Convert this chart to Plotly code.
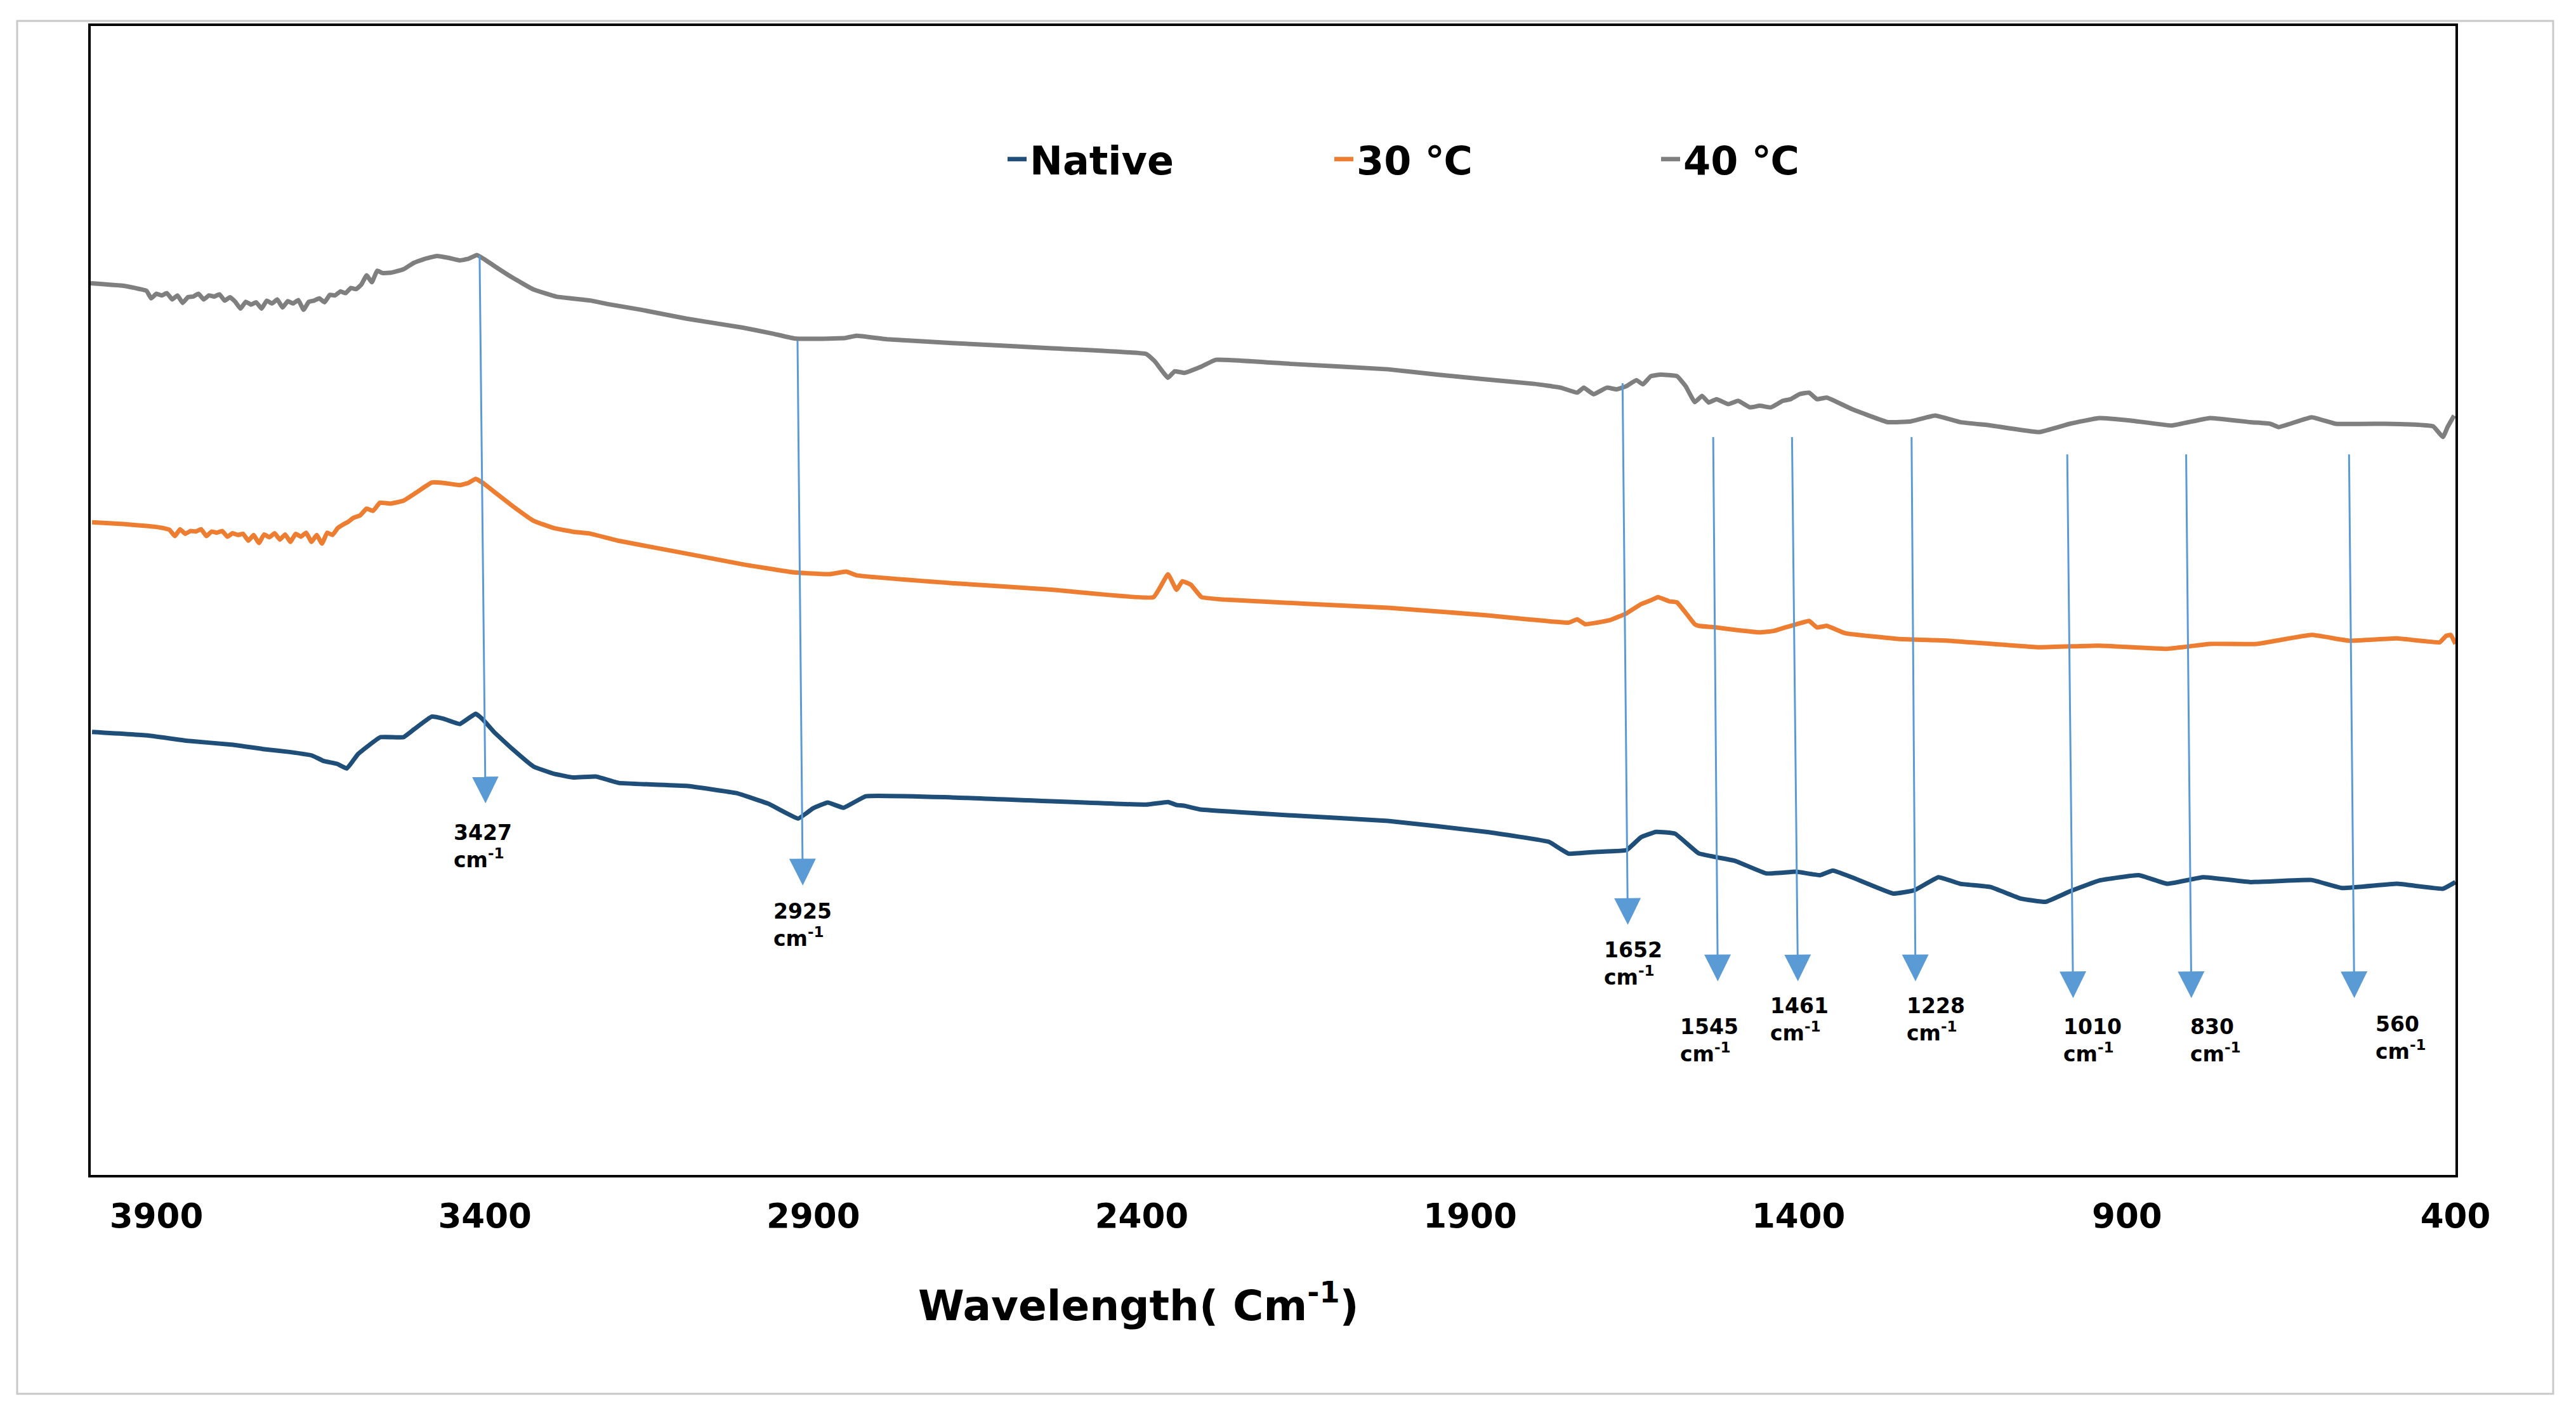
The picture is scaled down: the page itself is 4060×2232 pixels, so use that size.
import plotly.graph_objects as go

# ---------------- data (wavenumber, cm-1 ; relative transmittance, a.u.) ----------------
wn_40 = [4000, 3950, 3925, 3915, 3908, 3900, 3892, 3884, 3876, 3868,
         3860, 3852, 3844, 3836, 3828, 3820, 3812, 3804, 3796, 3788,
         3780, 3772, 3764, 3756, 3748, 3740, 3732, 3724, 3716, 3708,
         3700, 3692, 3684, 3676, 3668, 3660, 3652, 3644, 3636, 3628,
         3620, 3612, 3604, 3596, 3588, 3580, 3572, 3564, 3556, 3543,
         3524, 3508, 3490, 3473, 3455, 3438, 3425, 3412, 3400, 3386,
         3358, 3326, 3291, 3240, 3214, 3163, 3093, 3007, 2963, 2929,
         2888, 2851, 2834, 2788, 2689, 2537, 2393, 2380, 2360, 2350,
         2335, 2312, 2287, 2172, 2025, 1950, 1876, 1802, 1762, 1737,
         1727, 1712, 1692, 1677, 1662, 1647, 1637, 1625, 1610, 1585,
         1572, 1558, 1547, 1537, 1525, 1507, 1492, 1474, 1459, 1442,
         1424, 1412, 1399, 1384, 1372, 1357, 1319, 1264, 1229, 1192,
         1154, 1107, 1034, 987, 942, 894, 832, 774, 712, 682,
         669, 619, 582, 507, 462, 434, 419, 412, 402]
t_40 = [77.61, 77.39, 77.10, 76.95, 76.30, 76.70, 76.55, 76.75, 76.20, 76.55,
        75.90, 76.40, 76.45, 76.70, 76.20, 76.55, 76.45, 76.65, 76.10, 76.40,
        76.00, 75.40, 76.00, 75.75, 75.95, 75.40, 76.10, 75.85, 76.20, 75.50,
        76.05, 75.85, 76.15, 75.30, 76.00, 76.10, 76.30, 75.95, 76.60, 76.55,
        76.90, 76.75, 77.20, 77.10, 77.50, 78.30, 77.70, 78.70, 78.50, 78.53,
        78.82, 79.39, 79.76, 79.99, 79.82, 79.60, 79.74, 80.07, 79.67, 79.13,
        78.10, 77.07, 76.44, 76.11, 75.81, 75.31, 74.53, 73.74, 73.24, 72.81,
        72.78, 72.85, 73.04, 72.74, 72.41, 71.95, 71.45, 70.81, 69.38, 69.95,
        69.81, 70.29, 70.95, 70.59, 70.12, 69.66, 69.24, 68.85, 68.52, 68.09,
        68.52, 67.95, 68.52, 68.38, 68.66, 69.18, 68.81, 69.52, 69.66, 69.52,
        68.66, 67.26, 67.81, 67.23, 67.52, 67.09, 67.38, 66.81, 66.95, 66.81,
        67.38, 67.52, 67.95, 68.09, 67.52, 67.66, 66.66, 65.52, 65.59, 66.09,
        65.52, 65.23, 64.66, 65.38, 65.88, 65.66, 65.23, 65.88, 65.52, 65.38,
        65.09, 65.95, 65.38, 65.38, 65.31, 65.16, 64.23, 65.09, 66.09]

wn_30 = [3998, 3950, 3912, 3900, 3890, 3880, 3872, 3864, 3856, 3848,
         3840, 3832, 3824, 3816, 3808, 3800, 3792, 3784, 3776, 3768,
         3760, 3752, 3744, 3736, 3728, 3720, 3712, 3704, 3696, 3688,
         3680, 3672, 3664, 3656, 3648, 3640, 3632, 3624, 3616, 3608,
         3600, 3590, 3580, 3570, 3560, 3543, 3524, 3505, 3481, 3463,
         3438, 3425, 3414, 3403, 3386, 3358, 3326, 3295, 3265, 3240,
         3196, 3093, 3007, 2929, 2875, 2850, 2834, 2689, 2537, 2382,
         2360, 2347, 2338, 2325, 2309, 2275, 2025, 1876, 1812, 1750,
         1737, 1725, 1707, 1687, 1662, 1640, 1625, 1614, 1597, 1585,
         1570, 1558, 1552, 1525, 1505, 1459, 1437, 1412, 1399, 1384,
         1372, 1357, 1329, 1247, 1172, 1034, 942, 839, 774, 702,
         619, 562, 489, 424, 414, 407, 400]
t_30 = [56.80, 56.65, 56.47, 56.40, 56.30, 56.15, 55.60, 56.20, 55.80, 56.05,
        56.00, 56.20, 55.60, 56.00, 55.90, 56.05, 55.55, 55.85, 55.70, 55.80,
        55.20, 55.70, 55.00, 55.75, 55.50, 55.85, 55.30, 55.75, 55.10, 55.80,
        55.55, 55.90, 55.10, 55.70, 54.95, 55.90, 55.70, 56.30, 56.60, 56.85,
        57.20, 57.40, 58.00, 57.80, 58.50, 58.44, 58.68, 59.37, 60.27, 60.23,
        60.04, 60.23, 60.59, 60.23, 59.47, 58.23, 56.94, 56.30, 55.98, 55.82,
        55.19, 54.08, 53.14, 52.44, 52.29, 52.51, 52.19, 51.51, 50.94, 50.29,
        52.28, 50.93, 51.68, 51.36, 50.29, 50.08, 49.36, 48.72, 48.36, 48.07,
        48.36, 47.93, 48.07, 48.29, 48.88, 49.68, 50.01, 50.29, 49.93, 49.83,
        48.79, 47.93, 47.79, 47.65, 47.50, 47.22, 47.36, 47.79, 48.00, 48.22,
        47.65, 47.79, 47.15, 46.65, 46.50, 45.93, 46.07, 45.79, 46.22, 46.22,
        47.00, 46.50, 46.70, 46.36, 46.93, 47.00, 46.22]

wn_native = [3998, 3912, 3852, 3783, 3738, 3697, 3663, 3645, 3625, 3610,
             3593, 3559, 3524, 3508, 3481, 3463, 3438, 3414, 3403, 3386,
             3358, 3326, 3295, 3265, 3231, 3196, 3093, 3017, 2968, 2923,
             2900, 2878, 2854, 2820, 2689, 2393, 2360, 2347, 2335, 2312,
             2172, 2025, 1876, 1780, 1762, 1750, 1707, 1662, 1640, 1617,
             1588, 1552, 1497, 1449, 1404, 1367, 1348, 1319, 1256, 1224,
             1187, 1154, 1108, 1062, 1024, 987, 942, 882, 839, 784,
             712, 619, 572, 489, 419, 400]
t_native = [38.55, 38.24, 37.78, 37.44, 37.07, 36.81, 36.50, 36.02, 35.78, 35.38,
            36.64, 38.10, 38.10, 38.78, 39.89, 39.71, 39.25, 40.14, 39.64, 38.55,
            37.07, 35.55, 34.92, 34.59, 34.68, 34.12, 33.86, 33.23, 32.30, 31.02,
            31.92, 32.41, 31.96, 32.96, 32.86, 32.23, 32.46, 32.20, 32.13, 31.82,
            31.29, 30.81, 29.86, 28.99, 28.35, 27.96, 28.12, 28.27, 29.39, 29.86,
            29.70, 27.99, 27.34, 26.24, 26.39, 26.09, 26.49, 25.91, 24.49, 24.77,
            25.91, 25.34, 25.06, 24.06, 23.77, 24.68, 25.63, 26.09, 25.34, 25.91,
            25.49, 25.67, 24.97, 25.34, 24.91, 25.49]

series_names = ["Native", "30 ℃", "40 ℃"]
tick_vals = [3900, 3400, 2900, 2400, 1900, 1400, 900, 400]

# peak annotations
peak_labels = ["3427", "2925", "1652", "1545", "1461", "1228", "1010", "830", "560"]
arrow_tail_wn = [3408, 2924, 1668, 1530, 1410, 1228, 991, 810, 562]
arrow_tail_t = [80.1, 72.7, 69.0, 64.3, 64.3, 64.3, 62.8, 62.8, 62.8]
arrow_tip_wn = [3399, 2916, 1660, 1523, 1401, 1222, 982, 802, 554]
arrow_tip_t = [32.35, 25.20, 21.77, 16.86, 16.86, 16.86, 15.39, 15.39, 15.39]
label_wn = [3449, 2963, 1698, 1582, 1445, 1237, 999, 806, 524]
label_t = [28.59, 21.73, 18.38, 11.69, 13.51, 13.51, 11.69, 11.69, 11.94]

# ---------------- figure ----------------
W, H = 4060, 2232
ML, MR, MT, MB = 143, 190, 41, 380
FONT = "DejaVu Sans"

colors = ["#1F4E79", "#ED7D31", "#7F7F7F"]
xs = [wn_native, wn_30, wn_40]
ys = [t_native, t_30, t_40]

fig = go.Figure()
for name, x, y, c in zip(series_names, xs, ys, colors):
    fig.add_trace(go.Scatter(x=x, y=y, mode="lines", name=name,
                             line=dict(color=c, width=7, shape="spline", smoothing=0.3)))

annotations = []
for i, lab in enumerate(peak_labels):
    annotations.append(dict(
        x=arrow_tip_wn[i], y=arrow_tip_t[i], xref="x", yref="y",
        ax=arrow_tail_wn[i], ay=arrow_tail_t[i], axref="x", ayref="y",
        text="", showarrow=True, arrowhead=2, arrowsize=2.8, arrowwidth=3,
        arrowcolor="#5B9BD5", standoff=0))
    annotations.append(dict(
        x=label_wn[i], y=label_t[i], xref="x", yref="y",
        text=lab + "<br>cm<sup>-1</sup>", showarrow=False,
        xanchor="left", yanchor="middle", align="left",
        font=dict(family=FONT, size=33, color="black", weight="bold")))

pw = W - ML - MR
ph = H - MT - MB
annotations.append(dict(
    x=(1794 - ML) / pw, y=(H - MB - 2053) / ph, xref="paper", yref="paper",
    text="Wavelength( Cm<sup>-1</sup>)", showarrow=False,
    xanchor="center", yanchor="middle",
    font=dict(family=FONT, size=66, color="black", weight="bold")))

shapes = [dict(type="rect", xref="paper", yref="paper",
               x0=(27 - ML) / pw, x1=(4024 - ML) / pw,
               y0=(H - MB - 2197) / ph, y1=(H - MB - 33) / ph,
               line=dict(color="#C8C8C8", width=3), fillcolor="rgba(0,0,0,0)", layer="below")]

fig.update_layout(
    width=W, height=H, autosize=False,
    margin=dict(l=ML, r=MR, t=MT, b=MB, pad=0),
    paper_bgcolor="white", plot_bgcolor="white",
    showlegend=True,
    legend=dict(orientation="h", x=(1583 - ML) / pw, y=(H - MB - 251) / ph,
                xanchor="left", yanchor="middle", entrywidth=470,
                font=dict(family=FONT, size=62, color="black", weight="bold"),
                bgcolor="rgba(0,0,0,0)", itemwidth=30),
    annotations=annotations,
    shapes=shapes,
    font=dict(family=FONT, color="black"),
)
fig.update_xaxes(range=[4000, 400], tickvals=tick_vals,
                 ticktext=[str(v) for v in tick_vals],
                 showgrid=False, zeroline=False, ticks="",
                 showline=True, mirror=True, linecolor="black", linewidth=4,
                 ticklabelstandoff=15,
                 tickfont=dict(family=FONT, size=53, color="black", weight="bold"))
fig.update_yaxes(range=[0, 100], showticklabels=False, showgrid=False, zeroline=False,
                 ticks="", showline=True, mirror=True, linecolor="black", linewidth=4)

fig.write_html("out.html", config={"displayModeBar": False},
               post_script="document.body.style.margin='0';document.body.style.overflow='hidden';")
